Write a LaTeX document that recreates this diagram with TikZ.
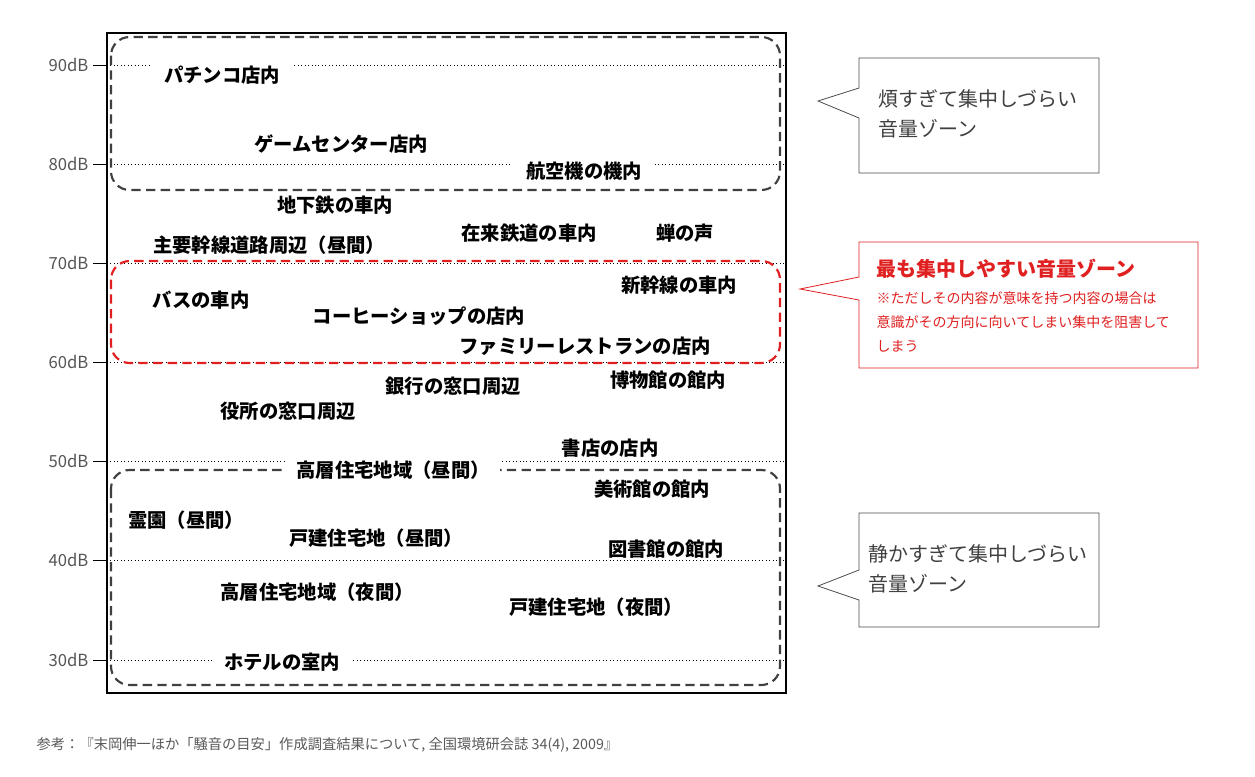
\documentclass[tikz,border=0pt]{standalone}
\usepackage{fontspec}
\setmainfont{Noto Sans CJK JP}
\usetikzlibrary{calc}
\definecolor{tgray}{HTML}{555555}
\definecolor{zred}{HTML}{E02020}
\begin{document}
\begin{tikzpicture}[x=0.75pt,y=-0.75pt,
  lbl/.style={fill=white,inner xsep=4pt,inner ysep=1pt,font=\fontsize{14.5}{16}\selectfont\bfseries},
  db/.style={anchor=east,font=\fontsize{12.5}{14}\selectfont,text=tgray,inner sep=1pt},
  grid/.style={dotted,line width=0.6pt},
  zone/.style={dashed,dash pattern=on 7pt off 4pt,line width=1.6pt,rounded corners=14pt},
  call/.style={draw=black!70,line width=0.6pt,fill=white}]
\useasboundingbox (0,0) rectangle (1255,776);
\foreach \v/\y in {90/65,80/164,70/263,60/362,50/461,40/560,30/660}{
  \draw[grid] (107,\y) -- (786,\y);
  \draw[line width=0.6pt] (93,\y) -- (107,\y);
  \node[db] at (90,\y) {\v dB};
}
\draw[line width=1.2pt] (107,33) rectangle (786,693);
\draw[zone,draw=black!75] (111,37) rectangle (780,190);
\draw[zone,draw=zred] (111,261) rectangle (780,363);
\draw[zone,draw=black!75] (111,470) rectangle (780,685);
\node[lbl,inner xsep=10pt] (a1) at (222,75) {パチンコ店内};
\node[lbl] (a2) at (341,144) {ゲームセンター店内};
\node[lbl,inner xsep=10pt] (a3) at (584,171) {航空機の機内};
\node[lbl] (a4) at (335,205) {地下鉄の車内};
\node[lbl] (a5) at (269,245) {主要幹線道路周辺（昼間）};
\node[lbl] (a6) at (529,233) {在来鉄道の車内};
\node[lbl] (a7) at (685,233) {蝉の声};
\node[lbl] (a8) at (679,285) {新幹線の車内};
\node[lbl] (a9) at (201,300) {バスの車内};
\node[lbl] (a10) at (419,316) {コーヒーショップの店内};
\node[lbl] (a11) at (585,346) {ファミリーレストランの店内};
\node[lbl] (a12) at (453,386) {銀行の窓口周辺};
\node[lbl] (a13) at (668,380) {博物館の館内};
\node[lbl] (a14) at (288,411) {役所の窓口周辺};
\node[lbl] (a15) at (610,448) {書店の店内};
\node[lbl,inner xsep=8pt] (a16) at (393,470) {高層住宅地域（昼間）};
\node[lbl] (a17) at (652,489) {美術館の館内};
\node[lbl] (a18) at (186,520) {霊園（昼間）};
\node[lbl] (a19) at (376,538) {戸建住宅地（昼間）};
\node[lbl] (a20) at (666,549) {図書館の館内};
\node[lbl] (a21) at (317,592) {高層住宅地域（夜間）};
\node[lbl] (a22) at (596,607) {戸建住宅地（夜間）};
\node[lbl,inner xsep=8pt] (a23) at (282,662) {ホテルの室内};
\draw[call] (859,58) -- (1099,58) -- (1099,173) -- (859,173) -- (859,118) -- (818,101) -- (859,88) -- cycle;
\node[anchor=west,text=black!75,font=\fontsize{15}{17}\selectfont,align=left] (c1) at (874,114) {煩すぎて集中しづらい\\[5pt]音量ゾーン};
\draw[call,draw=zred] (859,242) -- (1198,242) -- (1198,368) -- (859,368) -- (859,300) -- (800,289) -- (859,277) -- cycle;
\node[anchor=west,text=zred,font=\fontsize{15}{17}\selectfont\bfseries] (c2) at (872,269) {最も集中しやすい音量ゾーン};
\node[anchor=north west,text=zred,font=\fontsize{10.5}{18}\selectfont,align=left] (c3) at (872,287) {※ただしその内容が意味を持つ内容の場合は\\意識がその方向に向いてしまい集中を阻害して\\しまう};
\draw[call] (859,513) -- (1099,513) -- (1099,627) -- (859,627) -- (859,600) -- (818,586) -- (859,570) -- cycle;
\node[anchor=west,text=black!75,font=\fontsize{15}{17}\selectfont,align=left] (c4) at (864,569) {静かすぎて集中しづらい\\[5pt]音量ゾーン};
\node[anchor=west,text=black!65,font=\fontsize{10.7}{12}\selectfont] (ref) at (32,745) {参考：『末岡伸一ほか「騒音の目安」作成調査結果について, 全国環境研会誌 34(4), 2009』};
\end{tikzpicture}
\end{document}
